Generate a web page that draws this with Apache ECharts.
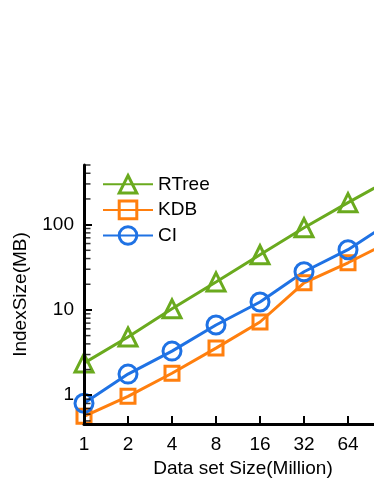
<!DOCTYPE html>
<html>
<head>
<meta charset="utf-8">
<script src="https://cdn.jsdelivr.net/npm/echarts@6/dist/echarts.min.js"></script>
<style>
html,body{margin:0;padding:0;background:#fff;}
#chart{width:374px;height:484px;}
</style>
</head>
<body>
<div id="chart"></div>
<script>
var dataSizes = [1, 2, 4, 8, 16, 32, 64, 128];
var rtree = [2.38, 4.81, 10.3, 21.3, 44.4, 92, 181, 350];
var kdb = [0.566, 0.97, 1.81, 3.57, 7.22, 20.8, 35.7, 65];
var ci = [0.805, 1.77, 3.29, 6.66, 12.4, 28, 50.8, 110];
var xTickLabels = [1, 2, 4, 8, 16, 32, 64, 128];
var yTickLabels = [1, 10, 100];
var yMinorTicks = [0.5, 0.6, 0.7, 0.8, 0.9, 2, 3, 4, 5, 6, 7, 8, 9, 20, 30, 40, 50, 60, 70, 80, 90, 200, 300, 400, 500];

function pairs(vals) {
  return dataSizes.map(function (x, i) { return [x, vals[i]]; });
}

var FONT = 'Liberation Sans, Arial, sans-serif';
var chart = echarts.init(document.getElementById('chart'), null, {renderer: 'canvas'});

function mkSeries(name, vals, color, symbol, size) {
  return {
    name: name,
    type: 'line',
    data: pairs(vals),
    symbol: symbol,
    symbolSize: size,
    showAllSymbol: true,
    clip: true,
    lineStyle: {color: color, width: 3},
    itemStyle: {color: 'rgba(255,255,255,0)', borderColor: color, borderWidth: 3},
    emphasis: {disabled: true},
    z: 2
  };
}

chart.setOption({
  animation: false,
  backgroundColor: '#fff',
  grid: {left: 84, top: 165, width: 352, height: 259, containLabel: false, outerBoundsMode: 'none'},
  legend: {
    orient: 'vertical',
    left: 97,
    top: 169,
    itemWidth: 50,
    itemHeight: 22,
    itemGap: 5,
    textStyle: {fontSize: 19, color: '#000', fontFamily: FONT},
    itemStyle: {borderWidth: 3},
    data: ['RTree', 'KDB', 'CI']
  },
  xAxis: {
    type: 'log',
    logBase: 2,
    min: 1,
    max: 256,
    z: 5,
    name: 'Data set Size(Million)',
    nameLocation: 'middle',
    nameGap: 32,
    nameTextStyle: {fontSize: 19, color: '#000', fontFamily: FONT, padding: [0, 34, 0, 0]},
    axisLine: {show: true, lineStyle: {color: '#000', width: 3}},
    axisTick: {show: true, inside: true, length: 8, lineStyle: {color: '#000', width: 2}},
    axisLabel: {show: true, fontSize: 19, color: '#000', fontFamily: FONT, margin: 11,
      formatter: function (v) { return xTickLabels.indexOf(Math.round(v)) >= 0 ? String(Math.round(v)) : ''; }},
    splitLine: {show: false},
    minorTick: {show: false}
  },
  yAxis: {
    type: 'log',
    logBase: 10,
    min: 0.46,
    max: 500,
    z: 5,
    name: 'IndexSize(MB)',
    nameLocation: 'middle',
    nameGap: 54,
    nameTextStyle: {fontSize: 19, color: '#000', fontFamily: FONT},
    axisLine: {show: true, lineStyle: {color: '#000', width: 3}},
    axisTick: {show: true, inside: true, length: 8, lineStyle: {color: '#000', width: 2}, customValues: yTickLabels},
    axisLabel: {show: true, fontSize: 19, color: '#000', fontFamily: FONT, margin: 10, customValues: yTickLabels},
    splitLine: {show: false}
  },
  series: [
    mkSeries('RTree', rtree, '#6aaa1e', 'triangle', 18),
    mkSeries('KDB', kdb, '#ff7f0e', 'rect', 14),
    mkSeries('CI', ci, '#1f72e4', 'circle', 18),
    {
      name: 'minorTicks',
      type: 'scatter',
      data: yMinorTicks.map(function (v) { return [1, v]; }),
      symbol: 'rect',
      symbolSize: [5, 1.5],
      symbolOffset: [4, 0],
      itemStyle: {color: '#000'},
      silent: true,
      clip: false,
      z: 6
    }
  ]
});
</script>
</body>
</html>
